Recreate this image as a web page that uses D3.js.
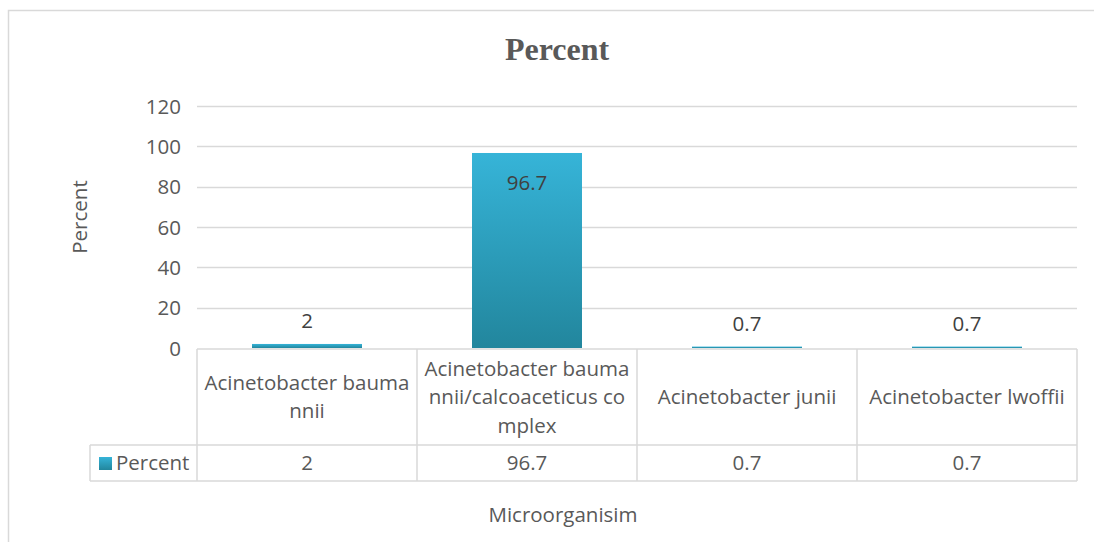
<!DOCTYPE html>
<html>
<head>
<meta charset="utf-8">
<script src="https://cdn.jsdelivr.net/npm/d3@7/dist/d3.min.js"></script>
<style>
  html, body { margin: 0; padding: 0; background: #fff; }
  svg { display: block; }
  text { font-family: "Open Sans", sans-serif; fill: #595959; }
</style>
</head>
<body>
<svg id="chart" width="1094" height="542"></svg>
<script>
// Data
const categories = [
  "Acinetobacter baumannii",
  "Acinetobacter baumannii/calcoaceticus complex",
  "Acinetobacter junii",
  "Acinetobacter lwoffii"
];
// Category labels as they wrap inside the data-table cells
const categoryLines = [
  ["Acinetobacter bauma", "nnii"],
  ["Acinetobacter bauma", "nnii/calcoaceticus co", "mplex"],
  ["Acinetobacter junii"],
  ["Acinetobacter lwoffii"]
];
const percentValues = [2, 96.7, 0.7, 0.7];
const valueLabels = ["2", "96.7", "0.7", "0.7"];
const yTicks = [0, 20, 40, 60, 80, 100, 120];
const seriesName = "Percent";

const svg = d3.select("#chart");
const W = 1094, H = 542;
const FS = 20.5;

// Chart area frame
svg.append("rect")
  .attr("x", 8.5).attr("y", 10.5)
  .attr("width", W).attr("height", H)
  .attr("fill", "#fff").attr("stroke", "#d9d9d9").attr("stroke-width", 1.5);

const plot = { left: 197, right: 1077, top: 106, bottom: 348 };

const x = d3.scaleBand()
  .domain(categories)
  .range([plot.left, plot.right])
  .paddingInner(0).paddingOuter(0);

const y = d3.scaleLinear()
  .domain([0, 120])
  .range([plot.bottom, plot.top]);

// Bar gradient
const defs = svg.append("defs");
const grad = defs.append("linearGradient")
  .attr("id", "barGrad")
  .attr("x1", 0).attr("y1", 0).attr("x2", 0).attr("y2", 1);
grad.append("stop").attr("offset", "0%").attr("stop-color", "#36b4d8");
grad.append("stop").attr("offset", "100%").attr("stop-color", "#22869d");

// Gridlines
svg.append("g")
  .selectAll("line")
  .data(yTicks.filter(t => t > 0))
  .join("line")
  .attr("x1", plot.left).attr("x2", plot.right)
  .attr("y1", d => Math.round(y(d)) + 0.5).attr("y2", d => Math.round(y(d)) + 0.5)
  .attr("stroke", "#d9d9d9").attr("stroke-width", 1.5);

// Y axis tick labels
const yAxis = d3.axisLeft(y).tickValues(yTicks).tickSize(0).tickPadding(0);
const yg = svg.append("g")
  .attr("transform", `translate(${181},0)`)
  .call(yAxis);
yg.select(".domain").remove();
yg.selectAll("text")
  .attr("font-size", FS)
  .attr("font-family", "'Open Sans', sans-serif")
  .attr("fill", "#595959")
  .attr("dy", "0.35em");

// Y axis title
svg.append("text")
  .attr("transform", `translate(87,${(plot.top + plot.bottom) / 2 - 10}) rotate(-90)`)
  .attr("text-anchor", "middle")
  .attr("font-size", FS)
  .text("Percent");

// Bars
const barW = x.bandwidth() / 2;
svg.append("g")
  .selectAll("rect")
  .data(percentValues)
  .join("rect")
  .attr("x", (d, i) => x(categories[i]) + (x.bandwidth() - barW) / 2)
  .attr("width", barW)
  .attr("y", d => y(d))
  .attr("height", d => y(0) - y(d))
  .attr("fill", "url(#barGrad)");

// Value labels: inside end for tall bars, above for short ones
svg.append("g")
  .selectAll("text")
  .data(percentValues)
  .join("text")
  .attr("x", (d, i) => x(categories[i]) + x.bandwidth() / 2)
  .attr("y", d => d > 20 ? y(d) + 37 : y(d) - 16)
  .attr("text-anchor", "middle")
  .attr("font-size", FS)
  .style("fill", "#404040")
  .text((d, i) => valueLabels[i]);

// Data table
const tableTop = 349, rowSplit = 445, tableBottom = 481, legendLeft = 90;
const tbl = svg.append("g").attr("stroke", "#d9d9d9").attr("stroke-width", 1.5).attr("fill", "none");
// horizontal lines
tbl.append("line").attr("x1", plot.left).attr("x2", plot.right).attr("y1", tableTop).attr("y2", tableTop);
tbl.append("line").attr("x1", legendLeft).attr("x2", plot.right).attr("y1", rowSplit).attr("y2", rowSplit);
tbl.append("line").attr("x1", legendLeft).attr("x2", plot.right).attr("y1", tableBottom).attr("y2", tableBottom);
// vertical lines
const colEdges = categories.map(c => x(c)).concat([plot.right]);
tbl.selectAll("line.v")
  .data(colEdges)
  .join("line")
  .attr("class", "v")
  .attr("x1", d => d).attr("x2", d => d)
  .attr("y1", tableTop).attr("y2", tableBottom);
tbl.append("line").attr("x1", legendLeft).attr("x2", legendLeft).attr("y1", rowSplit).attr("y2", tableBottom);

// Category labels in header row
const lineH = 28.5;
const catG = svg.append("g");
categoryLines.forEach((lines, i) => {
  const cx = x(categories[i]) + x.bandwidth() / 2;
  const cy = (tableTop + rowSplit) / 2;
  const startY = cy - (lines.length - 1) * lineH / 2;
  const t = catG.append("text")
    .attr("text-anchor", "middle")
    .attr("font-size", FS);
  lines.forEach((ln, k) => {
    t.append("tspan")
      .attr("x", cx)
      .attr("y", startY + k * lineH)
      .attr("dy", "0.35em")
      .text(ln);
  });
});

// Value row
svg.append("g")
  .selectAll("text")
  .data(percentValues)
  .join("text")
  .attr("x", (d, i) => x(categories[i]) + x.bandwidth() / 2)
  .attr("y", (rowSplit + tableBottom) / 2)
  .attr("dy", "0.35em")
  .attr("text-anchor", "middle")
  .attr("font-size", FS)
  .text((d, i) => valueLabels[i]);

// Legend key in table
svg.append("rect")
  .attr("x", 99).attr("y", 457).attr("width", 13).attr("height", 13)
  .attr("fill", "url(#barGrad)");
svg.append("text")
  .attr("x", 116).attr("y", (rowSplit + tableBottom) / 2)
  .attr("dy", "0.35em")
  .attr("font-size", FS)
  .text(seriesName);

// X axis title
svg.append("text")
  .attr("x", 563).attr("y", 515)
  .attr("dy", "0.35em")
  .attr("text-anchor", "middle")
  .attr("font-size", FS)
  .text("Microorganisim");

// Chart title
svg.append("text")
  .attr("x", 557).attr("y", 60)
  .attr("text-anchor", "middle")
  .attr("font-weight", "bold")
  .attr("font-size", 32)
  .style("font-family", "'Liberation Serif', 'Times New Roman', serif")
  .style("fill", "#595959")
  .text("Percent");
</script>
</body>
</html>
